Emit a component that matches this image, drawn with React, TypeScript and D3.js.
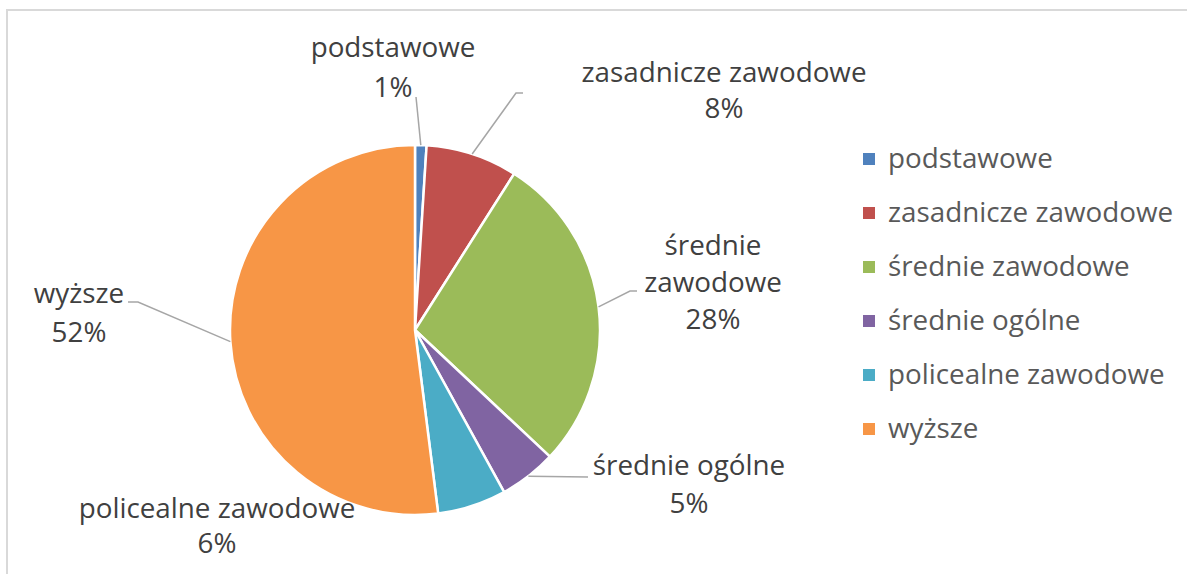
import React from "react";
import * as d3 from "d3";

const categories = ["podstawowe", "zasadnicze zawodowe", "średnie zawodowe", "średnie ogólne", "policealne zawodowe", "wyższe"];
const values = [1, 8, 28, 5, 6, 52];
const colors = ["#4F81BD", "#C0504D", "#9BBB59", "#8064A2", "#4BACC6", "#F79646"];
const labelLines = [["podstawowe"], ["zasadnicze zawodowe"], ["średnie", "zawodowe"], ["średnie ogólne"], ["policealne zawodowe"], ["wyższe"]];

// layout (positions of labels and leader elbows)
const W = 1187, H = 574;
const CX = 415, CY = 330, R = 185;
const labelLayout = [
  { x: 393, y: 57, lh: 40, elbow: [[416, 97]] },
  { x: 724, y: 82, lh: 36, elbow: [[523, 93], [516, 93]] },
  { x: 713, y: 255, lh: 37, elbow: [[637, 291], [630, 291]] },
  { x: 689, y: 475, lh: 38, elbow: [[588, 477]] },
  { x: 217, y: 518, lh: 35, elbow: null },
  { x: 79, y: 303, lh: 39, elbow: [[128, 302], [138, 302]] },
];

const FONT = "'Open Sans', sans-serif";
const FS = 27.8;

export default function App() {
  const total = d3.sum(values);
  const pie = d3.pie<number>().sort(null).value((d) => d);
  const arcs = pie(values);
  const arc = d3.arc<d3.PieArcDatum<number>>().innerRadius(0).outerRadius(R);
  const fmt = (v: number) => `${Math.round((v / total) * 100)}%`;
  const legendX = 863, legendY0 = 159, legendStep = 54;

  return (
    <svg width={W} height={H} style={{ position: "absolute", left: 0, top: 0 }} fontFamily={FONT}>
      <rect x={0} y={0} width={W} height={H} fill="#fff" />
      <rect x={7} y={10} width={W + 20} height={H + 20} fill="none" stroke="#d9d9d9" strokeWidth={2} />
      <g transform={`translate(${CX},${CY})`}>
        {arcs.map((a, i) => (
          <path key={i} d={arc(a) || ""} fill={colors[i]} stroke="#fff" strokeWidth={2.5} strokeLinejoin="round" />
        ))}
      </g>
      {arcs.map((a, i) => {
        const L = labelLayout[i];
        if (!L.elbow) return null;
        const mid = (a.startAngle + a.endAngle) / 2;
        const px = CX + R * Math.sin(mid);
        const py = CY - R * Math.cos(mid);
        const pts = [...L.elbow, [px, py]];
        return (
          <polyline key={"l" + i} points={pts.map((p) => p.join(",")).join(" ")} fill="none" stroke="#a6a6a6" strokeWidth={1.5} />
        );
      })}
      {arcs.map((a, i) => {
        const L = labelLayout[i];
        const lines = [...labelLines[i], fmt(values[i])];
        return (
          <text key={"t" + i} x={L.x} y={L.y} textAnchor="middle" fontSize={FS} fill="#404040">
            {lines.map((s, k) => (
              <tspan key={k} x={L.x} y={L.y + k * L.lh}>{s}</tspan>
            ))}
          </text>
        );
      })}
      {categories.map((c, i) => (
        <g key={"lg" + i} transform={`translate(${legendX},${legendY0 + i * legendStep})`}>
          <rect x={0} y={-6} width={12} height={12} fill={colors[i]} />
          <text x={25} y={9} fontSize={FS} fill="#595959">{c}</text>
        </g>
      ))}
    </svg>
  );
}
